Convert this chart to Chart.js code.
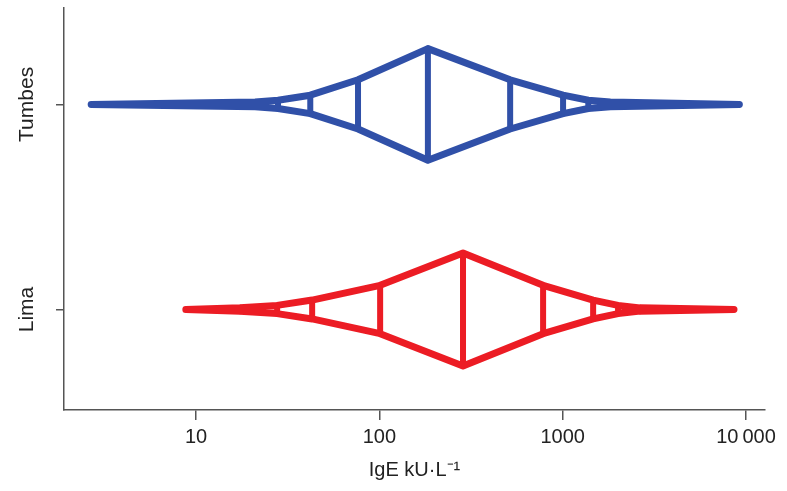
<!DOCTYPE html>
<html><head><meta charset="utf-8">
<script src="https://cdn.jsdelivr.net/npm/chart.js@4.4.0/dist/chart.umd.min.js"></script>
<style>html,body{margin:0;padding:0;background:#fff;}#wrap{width:787px;height:491px;position:relative;}</style>
</head><body><div id="wrap"><canvas id="c"></canvas></div>
<script>
// Categories (y positions: index in this array)
const groups = ['Lima', 'Tumbes'];
// Letter values (IgE kU/L), left end -> right end
const tumbesLetterValues = [2.68, 21, 28, 42, 76.5, 184, 517, 1005, 1380, 1820, 9200];
const tumbesHalfHeights  = [0, 0.012, 0.02, 0.045, 0.12, 0.272, 0.12, 0.045, 0.02, 0.012, 0];
const limaLetterValues   = [8.8, 17.4, 27.7, 43, 101, 286, 782, 1466, 2005, 2642, 8600];
const limaHalfHeights    = [0, 0.008, 0.02, 0.046, 0.118, 0.275, 0.118, 0.046, 0.02, 0.008, 0];
// Axis ticks
const xTickValues = [10, 100, 1000, 10000];
const xTickLabels = ['10', '100', '1000', '10\u2009000'];

const BLUE = '#3050a8';
const RED = '#ec1c24';
const FONT = "'Liberation Sans', Arial, sans-serif";

function shapeDatasets(values, halves, center, color) {
  const upper = values.map((v, i) => ({x: v, y: center + halves[i]}));
  const lower = values.map((v, i) => ({x: v, y: center - halves[i]})).reverse();
  const sets = [{
    data: upper.concat(lower.slice(1)),
    borderColor: color, borderWidth: 7, showLine: true, pointRadius: 0,
    fill: false, tension: 0, borderJoinStyle: 'round', borderCapStyle: 'round'
  }];
  for (let i = 1; i < values.length - 1; i++) {
    sets.push({
      data: [{x: values[i], y: center + halves[i]}, {x: values[i], y: center - halves[i]}],
      borderColor: color, borderWidth: 6, showLine: true, pointRadius: 0,
      fill: false, borderCapStyle: 'round'
    });
  }
  return sets;
}

const datasets = []
  .concat(shapeDatasets(tumbesLetterValues, tumbesHalfHeights, groups.indexOf('Tumbes'), BLUE))
  .concat(shapeDatasets(limaLetterValues, limaHalfHeights, groups.indexOf('Lima'), RED));

new Chart(document.getElementById('c'), {
  type: 'scatter',
  data: {datasets},
  options: {
    responsive: true, maintainAspectRatio: false, animation: false,
    layout: {padding: {top: 8, right: 22, left: 0, bottom: 0}},
    plugins: {legend: {display: false}, tooltip: {enabled: false}},
    scales: {
      x: {
        type: 'logarithmic', min: 1.905, max: 12694,
        afterBuildTicks: s => { s.ticks = xTickValues.map(v => ({value: v})); },
        afterFit: s => { s.height = 81; },
        ticks: {
          autoSkip: false, maxRotation: 0, padding: 5, color: '#222',
          font: {family: FONT, size: 20},
          callback: (v) => xTickLabels[xTickValues.indexOf(v)]
        },
        grid: {display: true, drawOnChartArea: false, drawTicks: true, tickLength: 10, color: '#555', lineWidth: 1.5},
        border: {display: true, color: '#555', width: 1.5},
        title: {display: true, text: 'IgE kU\u00b7L\u207b\u00b9', color: '#222',
          font: {family: FONT, size: 20}, padding: {top: 0, bottom: 9}}
      },
      y: {
        type: 'linear', min: -0.49, max: 1.47,
        afterBuildTicks: s => { s.ticks = groups.map((g, i) => ({value: i})); },
        afterFit: s => { s.width = 64; },
        ticks: {
          minRotation: 90, maxRotation: 90, crossAlign: 'center', padding: -9, color: '#222',
          font: {family: FONT, size: 21},
          callback: (v) => groups[v]
        },
        grid: {display: true, drawOnChartArea: false, drawTicks: true, tickLength: 8, color: '#555', lineWidth: 1.5},
        border: {display: true, color: '#555', width: 1.5}
      }
    }
  }
});
</script></body></html>
